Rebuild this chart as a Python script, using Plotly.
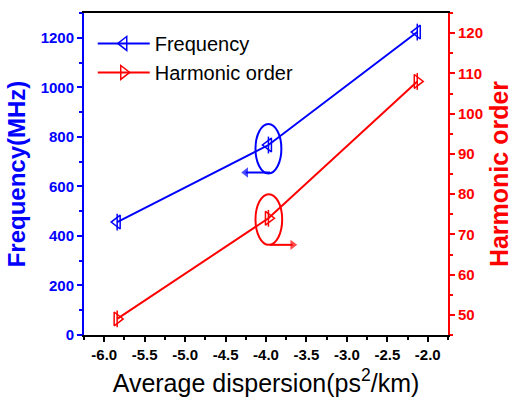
import plotly.graph_objects as go

# ---- data ----
dispersion = [-5.84, -3.97, -2.13]
frequency_mhz = [456, 767, 1223]
harmonic_order = [49, 74, 108]

x_tickvals = [-6.0, -5.5, -5.0, -4.5, -4.0, -3.5, -3.0, -2.5, -2.0]
x_ticktext = ["-6.0", "-5.5", "-5.0", "-4.5", "-4.0", "-3.5", "-3.0", "-2.5", "-2.0"]
y1_tickvals = [0, 200, 400, 600, 800, 1000, 1200]
y2_tickvals = [50, 60, 70, 80, 90, 100, 110, 120]

BLUE = "#0000FF"
RED = "#FF0000"
FONT = "Liberation Sans, Arial, sans-serif"

fig = go.Figure()

fig.add_trace(go.Scatter(
    x=dispersion, y=frequency_mhz, name="Frequency", mode="lines+markers",
    line=dict(color=BLUE, width=2),
    marker=dict(symbol="triangle-left-open", size=12, color=BLUE,
                line=dict(width=1.5, color=BLUE)),
    yaxis="y"))
fig.add_trace(go.Scatter(
    x=dispersion, y=frequency_mhz, mode="markers", showlegend=False,
    marker=dict(symbol="line-ns-open", size=12, color=BLUE,
                line=dict(width=1.5, color=BLUE)),
    yaxis="y", hoverinfo="skip"))

fig.add_trace(go.Scatter(
    x=dispersion, y=harmonic_order, name="Harmonic order", mode="lines+markers",
    line=dict(color=RED, width=2),
    marker=dict(symbol="triangle-right-open", size=12, color=RED,
                line=dict(width=1.5, color=RED)),
    yaxis="y2"))
fig.add_trace(go.Scatter(
    x=dispersion, y=harmonic_order, mode="markers", showlegend=False,
    marker=dict(symbol="line-ns-open", size=12, color=RED,
                line=dict(width=1.5, color=RED)),
    yaxis="y2", hoverinfo="skip"))

# ellipses highlighting middle points
fig.add_shape(type="circle", xref="x", yref="y",
              x0=-4.13, x1=-3.81, y0=652, y1=852,
              line=dict(color=BLUE, width=2))
fig.add_shape(type="circle", xref="x", yref="y2",
              x0=-4.13, x1=-3.80, y0=67.4, y1=80.0,
              line=dict(color=RED, width=2))

# arrows pointing to the respective axes
fig.add_trace(go.Scatter(
    x=[-3.95, -4.25], y=[656, 656], mode="lines+markers", showlegend=False,
    line=dict(color=BLUE, width=2),
    marker=dict(symbol="triangle-up", angleref="previous", size=[0, 9],
                color=BLUE, line=dict(width=0)),
    yaxis="y", hoverinfo="skip"))
fig.add_trace(go.Scatter(
    x=[-3.95, -3.67], y=[67.4, 67.4], mode="lines+markers", showlegend=False,
    line=dict(color=RED, width=2),
    marker=dict(symbol="triangle-up", angleref="previous", size=[0, 9],
                color=RED, line=dict(width=0)),
    yaxis="y2", hoverinfo="skip"))

fig.update_layout(
    width=520, height=407,
    margin=dict(l=84, r=61, t=11, b=72),
    paper_bgcolor="white", plot_bgcolor="white",
    font=dict(family=FONT, color="black"),
    showlegend=True,
    legend=dict(x=0.024, y=0.966, xanchor="left", yanchor="top",
                bgcolor="rgba(0,0,0,0)", font=dict(size=20, color="black"),
                itemwidth=52, tracegroupgap=0),
    xaxis=dict(
        range=[-6.25, -1.75], tickvals=x_tickvals, ticktext=x_ticktext,
        ticks="outside", ticklen=5, tickwidth=2, tickcolor="black",
        minor=dict(dtick=0.25, tick0=-6, ticks="outside", ticklen=3,
                   tickwidth=2, tickcolor="black"),
        showline=True, linecolor="black", linewidth=2, mirror=True,
        showgrid=False, zeroline=False,
        tickfont=dict(size=15, color="black", family=FONT, weight="bold"),
        title=dict(text="Average dispersion(ps<sup>2</sup>/km)",
                   font=dict(size=25, color="black", family=FONT), standoff=12)),
    yaxis=dict(
        range=[0, 1300], tickvals=y1_tickvals,
        ticks="outside", ticklen=5, tickwidth=2, tickcolor=BLUE,
        minor=dict(dtick=100, tick0=0, ticks="outside", ticklen=3,
                   tickwidth=2, tickcolor=BLUE),
        showline=True, linecolor=BLUE, linewidth=2,
        showgrid=False, zeroline=False,
        tickfont=dict(size=15, color=BLUE, family=FONT, weight="bold"),
        title=dict(text="Frequency(MHz)",
                   font=dict(size=24, color=BLUE, family=FONT, weight="bold"),
                   standoff=8)),
    yaxis2=dict(
        range=[45, 125], tickvals=y2_tickvals, overlaying="y", side="right",
        ticks="outside", ticklen=5, tickwidth=2, tickcolor=RED,
        minor=dict(dtick=5, tick0=45, ticks="outside", ticklen=3,
                   tickwidth=2, tickcolor=RED),
        showline=True, linecolor=RED, linewidth=2,
        showgrid=False, zeroline=False,
        tickfont=dict(size=15, color=RED, family=FONT, weight="bold"),
        title=dict(text="Harmonic order",
                   font=dict(size=25, color=RED, family=FONT, weight="bold"),
                   standoff=8)),
)

fig.write_html("out.html")
